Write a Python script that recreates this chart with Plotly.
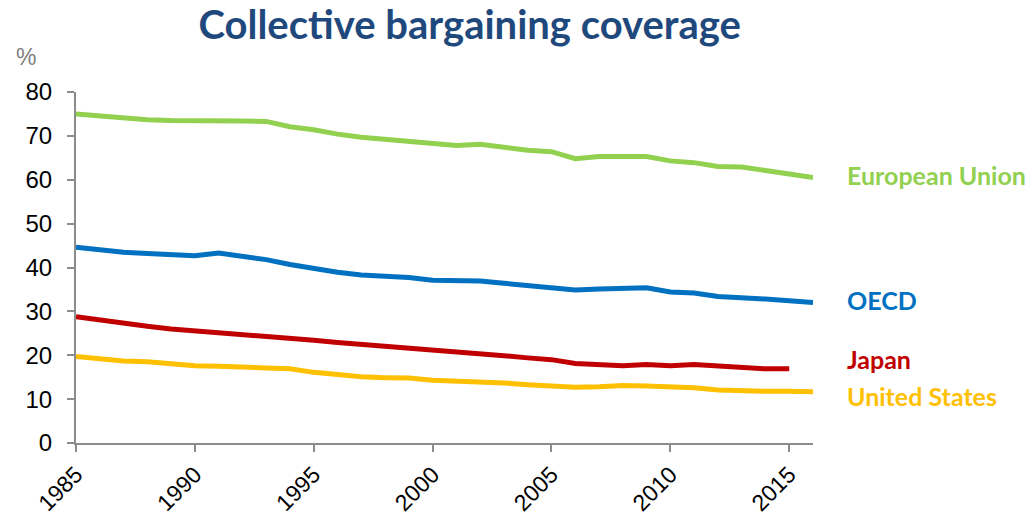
import plotly.graph_objects as go

years = list(range(1985, 2017))

european_union = [75.0, 74.5, 74.0, 73.7, 73.5, 73.5, 73.6, 73.4, 73.3, 72.1, 71.4, 70.4,
                  69.7, 69.2, 68.7, 68.1, 67.8, 68.1, 67.3, 66.7, 66.4, 64.8, 65.3, 65.3,
                  65.3, 64.3, 63.9, 63.0, 62.9, 62.1, 61.3, 60.5]
oecd = [44.6, 44.0, 43.5, 43.2, 43.0, 42.7, 43.3, 42.5, 41.8, 40.7, 39.7, 38.9,
        38.3, 38.1, 37.7, 37.1, 37.0, 36.9, 36.4, 35.9, 35.6, 34.9, 35.1, 35.2,
        35.4, 34.4, 34.2, 33.4, 33.2, 32.8, 32.4, 32.0]
japan = [28.8, 28.0, 27.3, 26.6, 26.0, 25.6, 25.2, 24.7, 24.3, 23.8, 23.4, 22.9,
         22.5, 22.1, 21.7, 21.2, 20.8, 20.3, 19.9, 19.4, 19.0, 18.1, 17.8, 17.6,
         17.9, 17.6, 17.9, 17.5, 17.1, 16.9, 16.9, None]
united_states = [19.7, 19.2, 18.7, 18.5, 18.0, 17.6, 17.5, 17.2, 17.1, 16.9, 16.1, 15.6,
                 15.1, 14.9, 14.8, 14.3, 14.1, 14.0, 13.7, 13.3, 13.1, 12.7, 12.8, 13.1,
                 13.0, 12.8, 12.6, 12.1, 11.9, 11.8, 11.8, 11.7]

series_names = ["European Union", "OECD", "Japan", "United States"]
series_values = [european_union, oecd, japan, united_states]
series_colors = ["#92D050", "#0070C0", "#C00000", "#FFC000"]
label_levels = [61.1, 32.7, 19.2, 10.8]

x_ticks = [1985, 1990, 1995, 2000, 2005, 2010, 2015]
y_ticks = [0, 10, 20, 30, 40, 50, 60, 70, 80]

fig = go.Figure()
for name, vals, color in zip(series_names, series_values, series_colors):
    fig.add_trace(go.Scatter(x=years, y=vals, mode="lines", name=name,
                             line=dict(color=color, width=5), connectgaps=False))

# series names at the right end of the lines
for name, level, color in zip(series_names, label_levels, series_colors):
    fig.add_annotation(x=1, xref="paper", y=level, yref="y", text="<b>%s</b>" % name,
                       showarrow=False, xanchor="left", yanchor="middle", xshift=32,
                       font=dict(family="Lato", size=25, color=color))

# unit above the value axis
fig.add_annotation(x=0, xref="paper", y=1, yref="paper", text="%", showarrow=False,
                   xanchor="left", yanchor="bottom", xshift=-62, yshift=20,
                   font=dict(family="Liberation Sans", size=23, color="#7f7f7f"))

axis_style = dict(showgrid=False, zeroline=False, showline=True, linecolor="#8c8c8c",
                  linewidth=2, ticks="outside", ticklen=7, tickwidth=2, tickcolor="#8c8c8c",
                  automargin=False)

fig.update_layout(
    width=1030, height=521,
    margin=dict(l=76, r=217, t=92, b=78, autoexpand=False),
    paper_bgcolor="white", plot_bgcolor="white",
    showlegend=False,
    title=dict(text="<b>Collective bargaining coverage</b>", x=0.456, xanchor="center",
               y=0.952, yanchor="middle",
               font=dict(family="Lato", size=40, color="#1F497D")),
    xaxis=dict(range=[1985, 2016], tickvals=x_ticks, tickangle=-45, ticklabelstandoff=0,
               tickfont=dict(family="Liberation Sans", size=23, color="black"),
               **axis_style),
    yaxis=dict(range=[0, 80], tickvals=y_ticks, ticklabelstandoff=10,
               tickfont=dict(family="Liberation Sans", size=24, color="black"),
               **axis_style),
)

fig.write_html("out.html")
